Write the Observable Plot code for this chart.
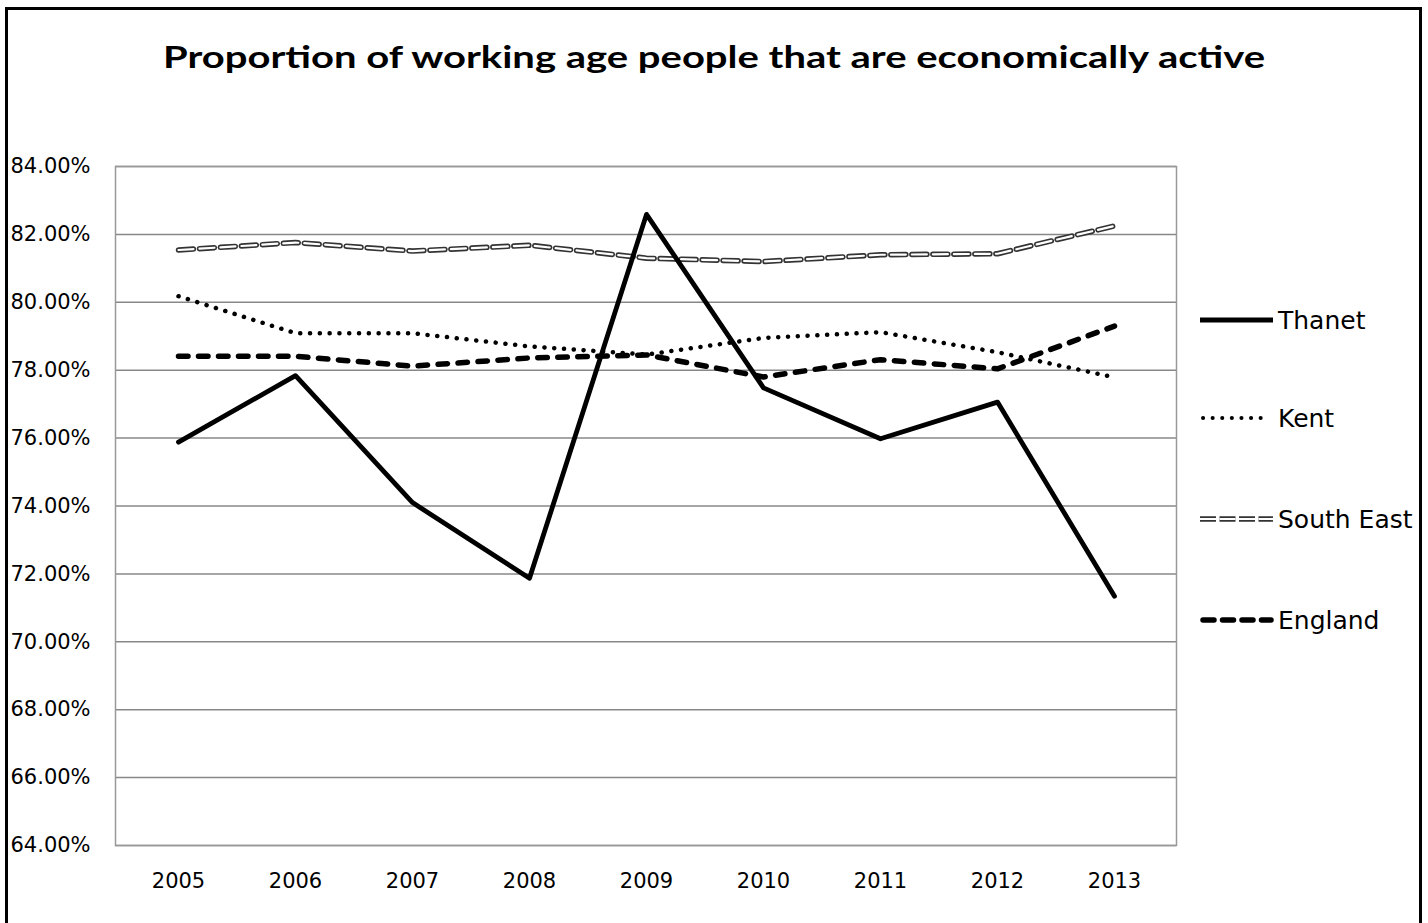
<!DOCTYPE html>
<html>
<head>
<meta charset="utf-8">
<script src="https://cdn.jsdelivr.net/npm/d3@7"></script>
<script src="https://cdn.jsdelivr.net/npm/@observablehq/plot@0.6"></script>
<style>
  html, body { margin: 0; padding: 0; background: #fff; overflow: hidden; }
  #frame { position: absolute; left: 5px; top: 7px; width: 1417px; height: 1000px;
           border: 3px solid #000; border-bottom: none; box-sizing: border-box; }
  #title { position: absolute; left: 163px; top: 36px; line-height: 40px; white-space: nowrap;
           font-family: Lato, "DejaVu Sans", sans-serif; font-weight: bold; font-size: 30px; color: #000;
           transform-origin: 0 50%; }
  #chart { position: absolute; left: 0; top: 0; }
</style>
</head>
<body>
<div id="frame"></div>
<div id="title">Proportion of working age people that are economically active</div>
<div id="chart"></div>
<script>
const years = [2005, 2006, 2007, 2008, 2009, 2010, 2011, 2012, 2013];
const thanet    = [75.88, 77.84, 74.10, 71.87, 82.59, 77.48, 75.98, 77.06, 71.34];
const kent      = [80.18, 79.09, 79.09, 78.70, 78.46, 78.95, 79.12, 78.53, 77.79];
const southEast = [81.54, 81.76, 81.51, 81.68, 81.30, 81.20, 81.40, 81.43, 82.25];
const england   = [78.41, 78.41, 78.12, 78.36, 78.45, 77.80, 78.31, 78.04, 79.30];
const seriesNames = ["Thanet", "Kent", "South East", "England"];
const yTicks = [64, 66, 68, 70, 72, 74, 76, 78, 80, 82, 84];

const rows = (name, vals) => years.map((y, i) => ({year: y, value: vals[i], series: name}));
const dThanet = rows("Thanet", thanet);
const dKent = rows("Kent", kent);
const dSE = rows("South East", southEast);
const dEng = rows("England", england);

const W = 1428, H = 923;
const plot = Plot.plot({
  width: W, height: H,
  marginLeft: 115, marginRight: 252, marginTop: 166, marginBottom: 78,
  style: {fontFamily: "DejaVu Sans, sans-serif", background: "transparent"},
  x: {type: "point", domain: years, padding: 0.5, label: null},
  y: {domain: [64, 84], label: null},
  marks: [
    Plot.gridY(yTicks, {stroke: "#888", strokeOpacity: 1, strokeWidth: 1.5}),
    Plot.frame({stroke: "#999", strokeWidth: 1.5}),
    Plot.axisY(yTicks, {tickSize: 0, tickPadding: 0, textAnchor: "start", dx: -105, label: null,
      tickFormat: d => d.toFixed(2) + "%", fontSize: 21, fill: "#000"}),
    Plot.axisX(years, {tickSize: 0, tickPadding: 28, fontSize: 21, fill: "#000", label: null, tickFormat: d => String(d)}),
    Plot.line(dSE, {x: "year", y: "value", stroke: "#333", strokeWidth: 5.5, strokeDasharray: "15,6"}),
    Plot.line(dSE, {x: "year", y: "value", stroke: "#fff", strokeWidth: 2.2, strokeDasharray: "15,6"}),
    Plot.line(dKent, {x: "year", y: "value", stroke: "#000", strokeWidth: 4.5, strokeDasharray: "0.1,9.7", strokeLinecap: "round"}),
    Plot.line(dEng, {x: "year", y: "value", stroke: "#000", strokeWidth: 5.5, strokeDasharray: "9.5,10.5", strokeLinecap: "round"}),
    Plot.line(dThanet, {x: "year", y: "value", stroke: "#000", strokeWidth: 4.8})
  ]
});
document.getElementById("chart").appendChild(plot);

// Stretch title to reference width
const title = document.getElementById("title");
const tw = title.getBoundingClientRect().width;
title.style.transform = `scaleX(${1102 / tw})`;

// Legend
const svg = d3.select(plot);
const legendY = [320, 418, 519, 620];
const styles = [
  [{stroke: "#000", w: 4.8, dash: null, cap: "butt", x1: 1200, x2: 1273}],
  [{stroke: "#000", w: 4, dash: "0.1,9.5", cap: "round", x1: 1203, x2: 1270}],
  [{stroke: "#333", w: 5.5, dash: "16,3.5", cap: "butt", x1: 1200, x2: 1273}, {stroke: "#fff", w: 2.2, dash: "16,3.5", cap: "butt", x1: 1200, x2: 1273}],
  [{stroke: "#000", w: 5.5, dash: "11,8.5", cap: "round", x1: 1203, x2: 1271}]
];
const lg = svg.append("g");
seriesNames.forEach((name, i) => {
  styles[i].forEach(s => {
    lg.append("line").attr("x1", s.x1).attr("x2", s.x2)
      .attr("y1", legendY[i]).attr("y2", legendY[i])
      .attr("stroke", s.stroke).attr("stroke-width", s.w)
      .attr("stroke-dasharray", s.dash).attr("stroke-linecap", s.cap);
  });
  lg.append("text").attr("x", 1278).attr("y", legendY[i]).attr("dy", "0.36em")
    .attr("text-anchor", "start")
    .attr("font-size", 25).attr("font-family", "DejaVu Sans, sans-serif").attr("fill", "#000")
    .text(name);
});
</script>
</body>
</html>
